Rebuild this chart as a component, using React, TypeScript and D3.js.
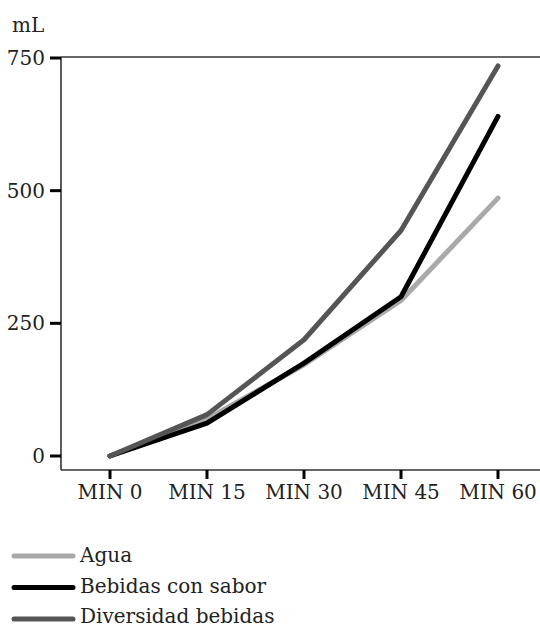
import React from "react";
import * as d3 from "d3";

const categories = ["MIN 0", "MIN 15", "MIN 30", "MIN 45", "MIN 60"];
const agua = [0, 70, 172, 293, 486];
const bebidasConSabor = [0, 62, 175, 300, 640];
const diversidadBebidas = [0, 78, 219, 425, 735];
const yTicks = [0, 250, 500, 750];
const seriesNames = ["Agua", "Bebidas con sabor", "Diversidad bebidas"];
const seriesColors = ["#a9a9a9", "#000000", "#555555"];

const W = 540;
const H = 628;
const FONT = "'DejaVu Serif'";
const SX = 1.0;

export default function App() {
  const x = d3.scalePoint<string>().domain(categories).range([110, 498]);
  const y = d3.scaleLinear().domain([0, 750]).range([456, 58]);
  const line = d3
    .line<number>()
    .x((_, i) => x(categories[i]) as number)
    .y((d) => y(d));
  const series = [agua, bebidasConSabor, diversidadBebidas];
  const axisLeft = 61;
  const axisBottom = 470;
  const axisTop = 57;

  const T = ({ tx, ty, anchor, children }: any) => (
    <g transform={`translate(${tx},${ty}) scale(${SX},1)`}>
      <text x={0} y={0} textAnchor={anchor} style={{ fontFamily: FONT, fontSize: "20px" }} fill="#222">
        {children}
      </text>
    </g>
  );

  return (
    <svg
      width={W}
      height={H}
      style={{ position: "absolute", left: 0, top: 0, background: "#fff", display: "block" }}
    >
      <T tx={12} ty={32} anchor="start">mL</T>
      <line x1={axisLeft} x2={W} y1={axisTop} y2={axisTop} stroke="#333" strokeWidth={1.6} />
      <line x1={axisLeft} x2={axisLeft} y1={axisTop} y2={axisBottom} stroke="#333" strokeWidth={1.6} />
      <line x1={axisLeft} x2={W} y1={axisBottom} y2={axisBottom} stroke="#333" strokeWidth={1.6} />
      {yTicks.map((t) => (
        <g key={t}>
          <line x1={50} x2={axisLeft} y1={y(t)} y2={y(t)} stroke="#000" strokeWidth={3} />
          <T tx={45} ty={y(t) + 7} anchor="end">{t}</T>
        </g>
      ))}
      {categories.map((c) => (
        <g key={c}>
          <line x1={x(c)} x2={x(c)} y1={axisBottom} y2={axisBottom + 9} stroke="#000" strokeWidth={3} />
          <T tx={x(c) as number} ty={499} anchor="middle">{c}</T>
        </g>
      ))}
      {series.map((s, i) => (
        <path
          key={i}
          d={line(s) || ""}
          fill="none"
          stroke={seriesColors[i]}
          strokeWidth={5}
          strokeLinecap="round"
          strokeLinejoin="round"
        />
      ))}
      {seriesNames.map((n, i) => (
        <g key={n}>
          <line
            x1={14}
            x2={73}
            y1={556 + i * 31.5}
            y2={556 + i * 31.5}
            stroke={seriesColors[i]}
            strokeWidth={5}
            strokeLinecap="round"
          />
          <T tx={80} ty={562 + i * 30.5} anchor="start">{n}</T>
        </g>
      ))}
    </svg>
  );
}
